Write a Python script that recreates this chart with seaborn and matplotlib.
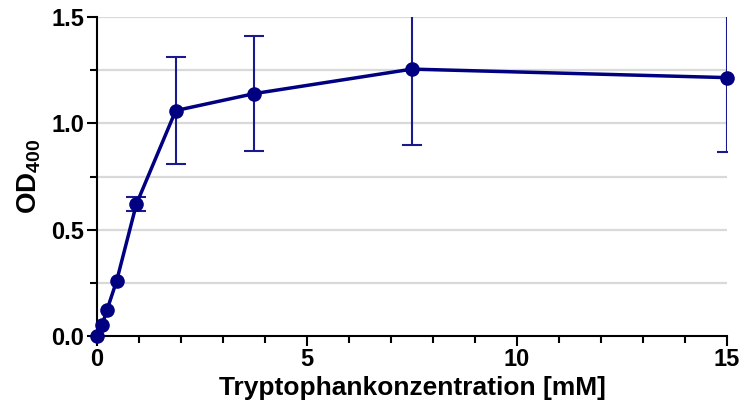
import numpy as np
import pandas as pd
import matplotlib
matplotlib.use("Agg")
import matplotlib.pyplot as plt
from matplotlib.ticker import MultipleLocator
import seaborn as sns

# Tryptophan concentration series (mM) and measured OD400 (mean, SD)
conc = [0.0, 0.117, 0.234, 0.469, 0.9375, 1.875, 3.75, 7.5, 15.0]
od400 = [0.0, 0.05, 0.12, 0.26, 0.62, 1.06, 1.14, 1.255, 1.215]
sd = [0.0, 0.0, 0.0, 0.0, 0.033, 0.25, 0.27, 0.355, 0.35]

x_ticks = [0, 5, 10, 15]
y_ticks = [0.0, 0.5, 1.0, 1.5]

sns.set_theme(style="white")
plt.rcParams["font.family"] = ["Liberation Sans", "DejaVu Sans"]
plt.rcParams["mathtext.fontset"] = "custom"
plt.rcParams["mathtext.bf"] = "Liberation Sans:bold"
plt.rcParams["mathtext.rm"] = "Liberation Sans"
plt.rcParams["text.color"] = "black"
plt.rcParams["axes.labelcolor"] = "black"
plt.rcParams["xtick.color"] = "black"
plt.rcParams["ytick.color"] = "black"

color = "#000080"
df = pd.DataFrame({"conc": conc, "od": od400, "sd": sd})
err = df[df["sd"] > 0]

fig = plt.figure(figsize=(7.41, 4.12), dpi=100)
ax = fig.add_axes([0.1309, 0.1845, 0.8501, 0.7742])

# horizontal grid every 0.25
for yv in np.arange(0.25, 1.51, 0.25):
    ax.axhline(yv, color="#d9d9d9", lw=1.6, zorder=0)

ax.errorbar(err["conc"], err["od"], yerr=err["sd"], fmt="none",
            ecolor="#1a1a90", elinewidth=1.5, capsize=7, capthick=1.5, zorder=2)

sns.lineplot(data=df, x="conc", y="od", ax=ax, color=color, lw=2.5,
             marker="o", markersize=10.5, markeredgewidth=0,
             zorder=3, clip_on=False)

ax.set_xlim(0, 15)
ax.set_ylim(0, 1.5)
ax.set_xticks(x_ticks)
ax.set_yticks(y_ticks)
ax.set_yticklabels([f"{v:.1f}" for v in y_ticks])
ax.xaxis.set_minor_locator(MultipleLocator(1))
ax.yaxis.set_minor_locator(MultipleLocator(0.25))

for s in ["top", "right"]:
    ax.spines[s].set_visible(False)
for s in ["left", "bottom"]:
    ax.spines[s].set_color("black")
    ax.spines[s].set_linewidth(1.5)

ax.tick_params(which="major", direction="out", length=7, width=1.5,
               color="black", labelcolor="black", labelsize=17, pad=2,
               bottom=True, left=True)
ax.tick_params(which="minor", direction="out", length=5, width=1.5,
               color="black", bottom=True, left=True)
for lab in ax.get_xticklabels() + ax.get_yticklabels():
    lab.set_fontweight("bold")

ax.set_xlabel("Tryptophankonzentration [mM]", fontsize=19, fontweight="bold",
              labelpad=3, color="black")
ax.set_ylabel(r"$\mathbf{OD_{400}}$", fontsize=20, labelpad=6, color="black")

fig.savefig("out.png", dpi=100)
